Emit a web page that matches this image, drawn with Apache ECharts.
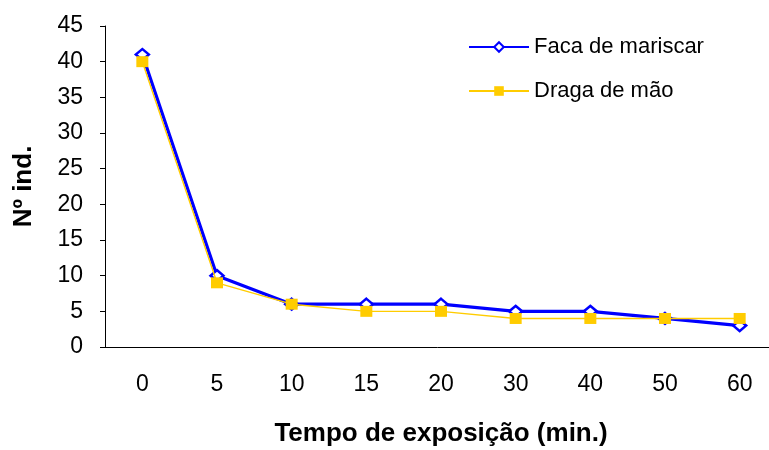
<!DOCTYPE html>
<html><head><meta charset="utf-8">
<script src="https://cdn.jsdelivr.net/npm/echarts@6/dist/echarts.min.js"></script>
<style>html,body{margin:0;padding:0;background:#fff}#c{width:769px;height:450px}</style>
</head><body><div id="c"></div>
<script>
const categories = ['0','5','10','15','20','30','40','50','60'];
const faca = [41,10,6,6,6,5,5,4,3];
const draga = [40,9,6,5,5,4,4,4,4];
const yTicks = {min:0, max:45, interval:5};
const font = 'Liberation Sans, Arial, sans-serif';
const chart = echarts.init(document.getElementById('c'));
chart.setOption({
  animation:false,
  backgroundColor:'#fff',
  grid:{left:105, width:672, top:26, bottom:103, containLabel:false, outerBoundsMode:'none'},
  legend:{
    orient:'vertical', left:463, top:31, itemGap:22, itemWidth:60, itemHeight:12,
    textStyle:{fontFamily:font, fontSize:22, color:'#000'},
    data:['Faca de mariscar','Draga de mão']
  },
  xAxis:{
    type:'category', data:categories, boundaryGap:true,
    name:'Tempo de exposição (min.)', nameLocation:'middle', nameGap:74,
    nameTextStyle:{fontFamily:font, fontSize:26, fontWeight:'bold', color:'#000'},
    axisLine:{lineStyle:{color:'#000', width:1}},
    axisTick:{length:8, alignWithLabel:false, lineStyle:{color:'#000'}},
    axisLabel:{fontFamily:font, fontSize:23, color:'#000', margin:26},
    splitLine:{show:false}
  },
  yAxis:{
    type:'value', min:yTicks.min, max:yTicks.max, interval:yTicks.interval,
    name:'Nº ind.', nameLocation:'middle', nameGap:68, nameRotate:90,
    nameTextStyle:{fontFamily:font, fontSize:26, fontWeight:'bold', color:'#000'},
    axisLine:{show:true, lineStyle:{color:'#000', width:1}},
    axisTick:{show:true, length:5, lineStyle:{color:'#000'}},
    axisLabel:{fontFamily:font, fontSize:23, color:'#000', margin:22},
    splitLine:{show:false}
  },
  series:[
    {name:'Faca de mariscar', type:'line', data:faca, z:3,
     lineStyle:{color:'#0000FF', width:3.2},
     itemStyle:{color:'#fff', borderColor:'#0000FF', borderWidth:2.5},
     symbol:'diamond', symbolSize:[13,11], showSymbol:true},
    {name:'Draga de mão', type:'line', data:draga, z:4,
     lineStyle:{color:'#FFCC00', width:1.4},
     itemStyle:{color:'#FFCC00', borderColor:'#FFCC00', borderWidth:0},
     symbol:'rect', symbolSize:[12,11], showSymbol:true}
  ]
});
</script></body></html>
